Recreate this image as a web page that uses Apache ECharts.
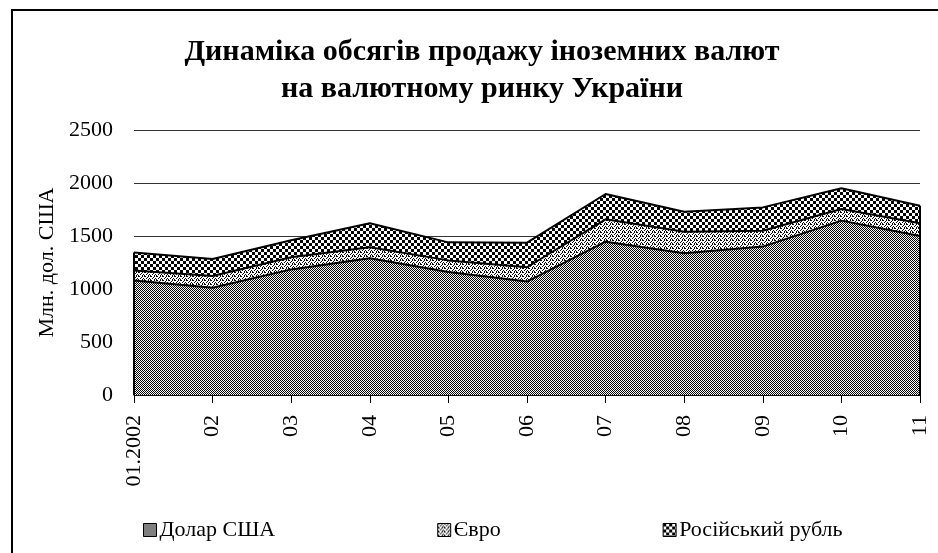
<!DOCTYPE html>
<html>
<head>
<meta charset="utf-8">
<script src="https://cdn.jsdelivr.net/npm/echarts@6/dist/echarts.min.js"></script>
<style>
  html, body { margin: 0; padding: 0; background: #fff; }
  #chart { width: 938px; height: 553px; }
</style>
</head>
<body>
<div id="chart"></div>
<script>
// monthly sales volumes, mln USD
const months = ['01.2002', '02', '03', '04', '05', '06', '07', '08', '09', '10', '11']
const usd = [1080, 1012, 1185, 1290, 1160, 1070, 1446, 1337, 1400, 1645, 1500]
const eur = [95, 111, 115, 103, 110, 135, 211, 204, 150, 110, 120]
const rub = [170, 160, 160, 227, 170, 232, 239, 188, 220, 195, 165]
const seriesNames = ['Долар США', 'Євро', 'Російський рубль']

const serif = "'Liberation Serif', 'Times New Roman', serif"

// small bitmap tiles for the hatch fills
function tile(w, h, isBlack) {
  const c = document.createElement('canvas')
  c.width = w
  c.height = h
  const ctx = c.getContext('2d')
  ctx.fillStyle = '#fff'
  ctx.fillRect(0, 0, w, h)
  ctx.fillStyle = '#000'
  for (let x = 0; x < w; x++) {
    for (let y = 0; y < h; y++) {
      if (isBlack(x, y)) ctx.fillRect(x, y, 1, 1)
    }
  }
  return { image: c, repeat: 'repeat' }
}

const usdFill = tile(2, 2, (x, y) => (x + y) % 2 === 0)
const eurFill = tile(6, 4, (x, y) =>
  (y === 0 && (x === 0 || x === 1 || x === 4)) || (y === 1 && x === 3) ||
  (y === 2 && (x === 2 || x === 5)) || (y === 3 && (x === 0 || x === 4)))
const rubFill = tile(6, 6, (x, y) => (Math.floor(x / 3) + Math.floor(y / 3)) % 2 === 0)
const fills = [usdFill, eurFill, rubFill]

const totals = usd.map((v, i) => v + eur[i] + rub[i])
const last = months.length - 1

const chart = echarts.init(document.getElementById('chart'))

function areaSeries(name, data, fill) {
  return {
    name,
    type: 'line',
    stack: 'total',
    data,
    symbol: 'none',
    silent: true,
    lineStyle: { color: '#000', width: 2 },
    itemStyle: { color: fill },
    areaStyle: { color: fill, opacity: 1 },
  }
}

const series = [
  areaSeries(seriesNames[0], usd, usdFill),
  areaSeries(seriesNames[1], eur, eurFill),
  areaSeries(seriesNames[2], rub, rubFill),
]

// outline on the two vertical edges of the stacked area
series[2].markLine = {
  symbol: 'none',
  silent: true,
  label: { show: false },
  lineStyle: { color: '#000', width: 2, type: 'solid' },
  data: [
    [{ coord: [0, 0] }, { coord: [0, totals[0]] }],
    [{ coord: [last, 0] }, { coord: [last, totals[last]] }],
  ],
}

chart.setOption({
  backgroundColor: '#fff',
  animation: false,
  textStyle: { fontFamily: serif, color: '#000' },
  title: {
    text: 'Динаміка обсягів продажу іноземних валют\nна валютному ринку України',
    left: 477,
    textAlign: 'center',
    top: 29,
    textStyle: { fontFamily: serif, fontWeight: 'bold', fontSize: 30, lineHeight: 37, color: '#000' },
  },
  graphic: [
    {
      type: 'rect',
      shape: { x: 12, y: 10, width: 940, height: 560 },
      style: { fill: null, stroke: '#000', lineWidth: 2 },
      silent: true,
    },
  ],
  legend: {
    left: 138,
    top: 514,
    icon: 'rect',
    itemWidth: 13,
    itemHeight: 13,
    itemGap: 162,
    textStyle: { fontFamily: serif, fontSize: 22, color: '#000', padding: [0, 0, 0, -2] },
    data: seriesNames.map((name, i) => ({
      name,
      itemStyle: { color: fills[i], borderColor: '#000', borderWidth: 1 },
    })),
  },
  grid: { left: 134, right: 18, top: 130, bottom: 158 },
  xAxis: {
    type: 'category',
    data: months,
    boundaryGap: false,
    axisLine: { lineStyle: { color: '#000', width: 1.5 } },
    axisTick: { length: 8, lineStyle: { color: '#000' } },
    axisLabel: { rotate: 90, margin: 20, fontSize: 22, fontFamily: serif, color: '#000' },
  },
  yAxis: {
    type: 'value',
    min: 0,
    max: 2500,
    interval: 500,
    name: 'Млн. дол. США',
    nameLocation: 'middle',
    nameGap: 76,
    nameTextStyle: { fontFamily: serif, fontSize: 22, color: '#000' },
    axisLine: { show: false },
    axisTick: { show: false },
    axisLabel: { margin: 21, fontSize: 22, fontFamily: serif, color: '#000', formatter: (v) => String(v) },
    splitLine: { lineStyle: { color: '#333', width: 1 } },
  },
  series,
})
</script>
</body>
</html>
